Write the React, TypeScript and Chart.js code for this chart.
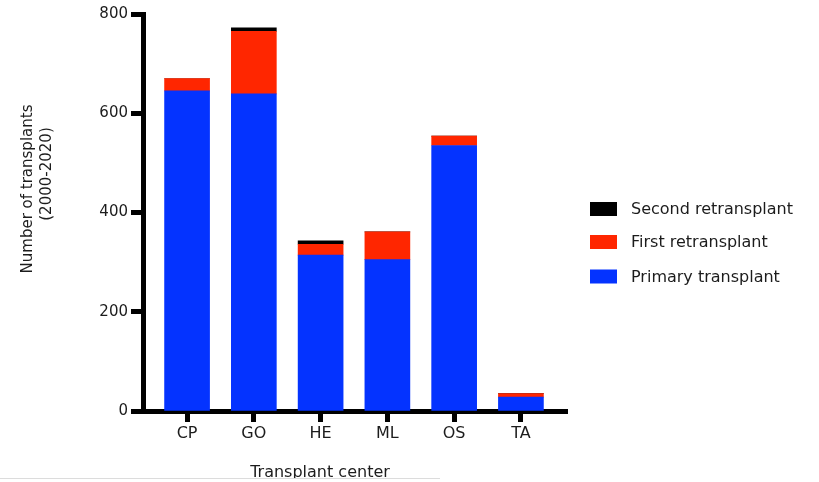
import React, { useEffect, useRef } from 'react';
import { Chart, registerables } from 'chart.js';

Chart.register(...registerables);

const categories = ['CP', 'GO', 'HE', 'ML', 'OS', 'TA'];
const primaryTransplant = [645, 639, 314, 305, 535, 28];
const firstRetransplant = [25, 126, 22, 56, 19, 7];
const secondRetransplant = [0, 7, 7, 0, 0, 0];
const yTicks = [0, 200, 400, 600, 800];
const seriesLabels = ['Primary transplant', 'First retransplant', 'Second retransplant'];
const seriesColors = ['#0433FF', '#FF2600', '#000000'];
const xTitle = 'Transplant center';
const yTitleLines = ['Number of transplants', '(2000-2020)'];

const FONT = '"DejaVu Sans", "Liberation Sans", Arial, sans-serif';
const TEXT = '#1c1c1c';

const decorPlugin = {
  id: 'decor',
  afterDraw(chart: any) {
    const ctx = chart.ctx as CanvasRenderingContext2D;
    ctx.save();
    ctx.fillStyle = TEXT;
    ctx.textAlign = 'center';
    ctx.textBaseline = 'middle';
    // x title
    ctx.font = `16px ${FONT}`;
    ctx.fillText(xTitle, 320, 473);
    // y title (two rotated lines)
    ctx.font = `15px ${FONT}`;
    const yPos = [
      [28, 189],
      [47, 174],
    ];
    yTitleLines.forEach((line, i) => {
      ctx.save();
      ctx.translate(yPos[i][0], yPos[i][1]);
      ctx.rotate(-Math.PI / 2);
      ctx.fillText(line, 0, 0);
      ctx.restore();
    });
    // legend (reverse order)
    const ds = chart.data.datasets;
    const rows = [209, 242, 276.5];
    ctx.font = `16px ${FONT}`;
    ctx.textAlign = 'left';
    for (let r = 0; r < ds.length; r++) {
      const d = ds[ds.length - 1 - r];
      const cy = rows[r];
      ctx.fillStyle = d.backgroundColor;
      ctx.fillRect(590, cy - 7, 27, 14);
      ctx.fillStyle = TEXT;
      ctx.fillText(d.label, 631, cy + 1);
    }
    // screenshot bottom edge
    ctx.fillStyle = '#ffffff';
    ctx.fillRect(0, 478.5, 440, 4);
    ctx.strokeStyle = '#dcdcdc';
    ctx.lineWidth = 1;
    ctx.beginPath();
    ctx.moveTo(0, 478.5);
    ctx.lineTo(440, 478.5);
    ctx.stroke();
    ctx.restore();
  },
};

export default function App() {
  const ref = useRef<HTMLCanvasElement>(null);
  useEffect(() => {
    if (!ref.current) return;
    const seriesData = [primaryTransplant, firstRetransplant, secondRetransplant];
    const chart = new Chart(ref.current, {
      type: 'bar',
      data: {
        datasets: seriesData.map((arr, s) => ({
          label: seriesLabels[s],
          data: arr.map((v, i) => ({ x: i, y: v })),
          backgroundColor: seriesColors[s],
          borderWidth: 0,
          barThickness: 45,
        })),
      },
      plugins: [decorPlugin],
      options: {
        animation: false,
        responsive: false,
        devicePixelRatio: 1,
        layout: { padding: { top: 14, right: 252, left: 0, bottom: 0 } },
        plugins: {
          legend: { display: false },
          tooltip: { enabled: false },
        },
        scales: {
          x: {
            type: 'linear',
            stacked: true,
            offset: false,
            min: -0.66,
            max: 5.69,
            afterBuildTicks: (scale: any) => {
              scale.ticks = categories.map((_, i) => ({ value: i }));
            },
            afterFit: (scale: any) => {
              scale.height = 71;
            },
            border: { display: true, color: '#000', width: 5 },
            grid: {
              offset: false,
              drawOnChartArea: false,
              drawTicks: true,
              tickLength: 11,
              tickWidth: 5,
              tickColor: '#000',
            },
            ticks: {
              autoSkip: false,
              maxRotation: 0,
              padding: 2,
              color: TEXT,
              font: { family: FONT, size: 16 },
              callback: (v: any) => categories[v as number] ?? '',
            },
          },
          y: {
            type: 'linear',
            stacked: true,
            min: 0,
            max: 800,
            afterBuildTicks: (scale: any) => {
              scale.ticks = yTicks.map((v) => ({ value: v }));
            },
            afterFit: (scale: any) => {
              scale.width = 143;
            },
            border: { display: true, color: '#000', width: 5 },
            grid: {
              drawOnChartArea: false,
              drawTicks: true,
              tickLength: 12,
              tickWidth: 5,
              tickColor: '#000',
            },
            ticks: {
              padding: 3,
              color: TEXT,
              font: { family: FONT, size: 15 },
            },
          },
        },
      },
    } as any);
    return () => chart.destroy();
  }, []);
  return (
    <div style={{ position: 'fixed', left: 0, top: 0, width: 819, height: 482, background: '#fff' }}>
      <canvas ref={ref} width={819} height={482} style={{ width: 819, height: 482, display: 'block' }} />
    </div>
  );
}
